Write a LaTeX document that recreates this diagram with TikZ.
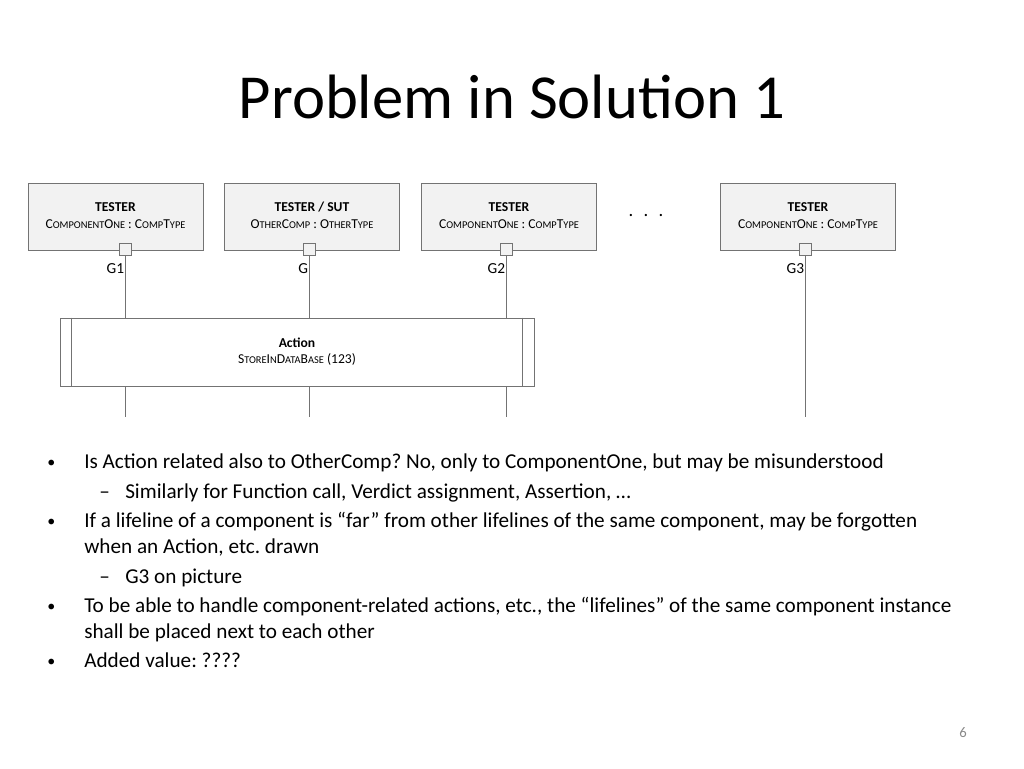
\documentclass[tikz,border=0pt]{standalone}
\usepackage{fontspec}
\setmainfont{Carlito}
\usetikzlibrary{positioning}
\definecolor{boxgray}{RGB}{242,242,242}
\definecolor{linegray}{RGB}{115,115,115}
\definecolor{numgray}{RGB}{137,137,137}
\newcommand{\smc}[1]{{\fontsize{7.8}{9}\selectfont #1}}
\newcommand{\compone}{C\smc{OMPONENT}O\smc{NE} : C\smc{OMP}T\smc{YPE}}
\frenchspacing

\begin{document}
\begin{tikzpicture}[x=0.75pt,y=-0.75pt]
    \tikzstyle{comp}=[draw=linegray, fill=boxgray, minimum width=131.25pt, minimum height=50.25pt, inner sep=0pt, align=center, font=\fontsize{10.2}{12.5}\selectfont]
    \tikzstyle{port}=[draw=linegray, fill=boxgray, minimum size=9pt, inner sep=0pt]
    \tikzstyle{life}=[draw=linegray, line width=0.6pt]
    \tikzstyle{gate}=[anchor=base east, inner sep=0.5pt, font=\fontsize{11.5}{13}\selectfont]
    \tikzstyle{item}=[anchor=base west, inner sep=0pt, font=\fontsize{15.9}{19}\selectfont]
    \useasboundingbox (0,0) rectangle (1024,768);
    % title
    \node[font=\fontsize{47}{56}\selectfont] (title) at (512,97) {Problem in Solution 1};
    % component boxes
    \node[comp] (c1) at (115.5,216.5) {\strut\textbf{TESTER}\\\compone\strut};
    \node[comp] (c2) at (312,216.5) {\strut\textbf{TESTER / SUT}\\O\smc{THER}C\smc{OMP} : O\smc{THER}T\smc{YPE}\strut};
    \node[comp] (c3) at (509,216.5) {\strut\textbf{TESTER}\\\compone\strut};
    \node[comp] (c4) at (808,216.5) {\strut\textbf{TESTER}\\\compone\strut};
    \node[font=\fontsize{14}{16}\selectfont] (dots) at (646,216) {.\hspace{0.55em}.\hspace{0.55em}.};
    % ports and lifelines
    \foreach \i/\x/\g in {1/125/G1,2/309/G,3/506/G2,4/805/G3} {
        \coordinate (e\i) at (\x,417);
        \path[life] (\x,249.5) node[port] (p\i) {};
        \draw[life] (p\i.south) -- (e\i);
        \node[gate] (g\i) at (\x,273) {\g};
    }
    % action
    \node[draw=linegray, fill=white, minimum width=355.5pt, minimum height=51pt, inner sep=0pt, align=center, font=\fontsize{10.2}{12.5}\selectfont] (act) at (297,352) {\strut\textbf{Action}\\S\smc{TORE}I\smc{N}D\smc{ATA}B\smc{ASE} (123)\strut};
    \draw[linegray] ([xshift=9pt]act.north west) -- ([xshift=9pt]act.south west);
    \draw[linegray] ([xshift=-9pt]act.north east) -- ([xshift=-9pt]act.south east);
    % bullets
    \foreach \y in {468,527,612,667}
        \node[item, font=\fontsize{12}{14}\selectfont] at (47,\y-1) {•};
    \foreach \y in {498,583}
        \node[item] at (99,\y) {–};
    \node[item] (t1) at (84,468) {Is Action related also to OtherComp? No, only to ComponentOne, but may be misunderstood};
    \node[item] (t2) at (125,498) {Similarly for Function call, Verdict assignment, Assertion, …};
    \node[item] (t3) at (84,527) {If a lifeline of a component is “far” from other lifelines of the same component, may be forgotten};
    \node[item] (t4) at (84,553) {when an Action, etc. drawn};
    \node[item] (t5) at (125,583) {G3 on picture};
    \node[item] (t6) at (84,612) {To be able to handle component-related actions, etc., the “lifelines” of the same component instance};
    \node[item] (t7) at (84,638) {shall be placed next to each other};
    \node[item] (t8) at (84,667) {Added value: ????};
    % page number
    \node[numgray, font=\fontsize{11}{13}\selectfont] (num) at (963,733) {6};
\end{tikzpicture}
\end{document}
